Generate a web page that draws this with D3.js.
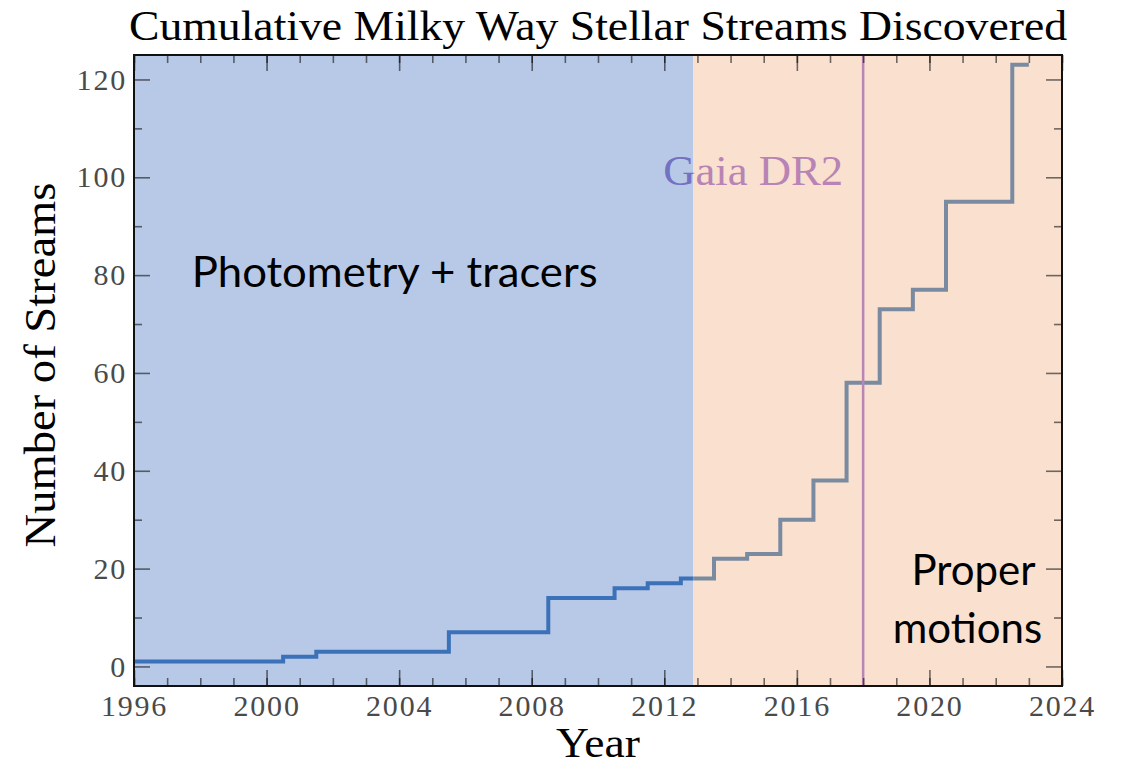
<!DOCTYPE html>
<html>
<head>
<meta charset="utf-8">
<script src="https://cdn.jsdelivr.net/npm/d3@7"></script>
<style>
  body { margin: 0; background: #fff; }
  svg { display: block; }
</style>
</head>
<body>
<div id="chart"></div>
<script>
// yearly cumulative counts (step changes half way between years)
var years = [1996, 1997, 1998, 1999, 2000, 2001, 2002, 2003, 2004, 2005, 2006, 2007, 2008, 2009,
             2010, 2011, 2012, 2013, 2014, 2015, 2016, 2017, 2018, 2019, 2020, 2021, 2022, 2023]
var streams = [1, 1, 1, 1, 1, 2, 3, 3, 3, 3, 7, 7, 7, 14,
               14, 16, 17, 18, 22, 23, 30, 38, 58, 73, 77, 95, 95, 123]

// eras + Gaia DR2 release
var eraNames = ["Photometry + tracers", "Proper motions"]
var eraBreak = 2012.88
var gaiaYear = 2018

var xMajor = [1996, 2000, 2004, 2008, 2012, 2016, 2020, 2024]
var yMajor = [0, 20, 40, 60, 80, 100, 120]
var yMinor = [10, 30, 50, 70, 90, 110]

var data = years.map(function (d, i) {
    return { year: d, n: streams[i] }
})

var W = 1129, H = 768
var margin = { top: 55, right: 67, bottom: 82, left: 134 }
var width = W - margin.left - margin.right
var height = H - margin.top - margin.bottom

var svg = d3.select("#chart")
    .append("svg")
    .attr("width", W)
    .attr("height", H)
    .append("g")
    .attr("transform", "translate(" + margin.left + "," + margin.top + ")")

var x = d3.scaleLinear().domain([1996, 2024]).range([0, width])
var y = d3.scaleLinear().domain([-4, 125]).range([height, 0])

// background regions
svg.append("rect")
    .attr("x", x(1996)).attr("y", 0)
    .attr("width", x(eraBreak) - x(1996)).attr("height", height)
    .attr("fill", "#b8c9e8")
svg.append("rect")
    .attr("x", x(eraBreak)).attr("y", 0)
    .attr("width", x(2024) - x(eraBreak)).attr("height", height)
    .attr("fill", "#f9e0cf")

var defs = svg.append("defs")
defs.append("clipPath").attr("id", "clipBlue")
    .append("rect")
    .attr("x", x(1996) - 10).attr("y", -60)
    .attr("width", x(eraBreak) - x(1996) + 10).attr("height", height + 60)
defs.append("clipPath").attr("id", "clipOrange")
    .append("rect")
    .attr("x", x(eraBreak)).attr("y", -60)
    .attr("width", x(2024) - x(eraBreak) + 10).attr("height", height + 60)

// step line
var line = d3.line()
    .curve(d3.curveStep)
    .x(function (d) { return x(d.year) })
    .y(function (d) { return y(d.n) })

svg.append("path")
    .datum(data)
    .attr("d", line)
    .attr("clip-path", "url(#clipBlue)")
    .attr("fill", "none")
    .attr("stroke", "#3b71b8")
    .attr("stroke-width", 4)
svg.append("path")
    .datum(data)
    .attr("d", line)
    .attr("clip-path", "url(#clipOrange)")
    .attr("fill", "none")
    .attr("stroke", "#7a8ba1")
    .attr("stroke-width", 4)

// Gaia DR2 line
svg.append("line")
    .attr("x1", x(gaiaYear)).attr("x2", x(gaiaYear))
    .attr("y1", 0).attr("y2", height)
    .attr("stroke", "#b985b5")
    .attr("stroke-width", 2.5)

var gaiaColors = [["clipBlue", "#7470c2"], ["clipOrange", "#b784b5"]]
gaiaColors.forEach(function (c) {
    svg.append("text")
        .attr("clip-path", "url(#" + c[0] + ")")
        .attr("x", x(gaiaYear) - 20)
        .attr("y", y(98.5))
        .attr("text-anchor", "end")
        .attr("font-family", "'Liberation Serif', serif")
        .attr("font-size", 42)
        .attr("textLength", 180)
        .attr("lengthAdjust", "spacingAndGlyphs")
        .attr("fill", c[1])
        .text("Gaia DR2")
})

// axes with inward ticks on all four sides
function styleAxis(g, labels) {
    g.select(".domain").remove()
    g.selectAll(".tick line").attr("stroke", "#000").attr("stroke-opacity", 0.55).attr("stroke-width", 1.6)
    if (!labels) g.selectAll(".tick text").remove()
    else g.selectAll(".tick text")
        .attr("fill", "#4a4a4a")
        .attr("font-family", "'Liberation Serif', serif")
        .attr("font-size", 30)
        .style("letter-spacing", "1.8px")
}

var yearsAll = d3.range(1996, 2025)
svg.append("g").attr("transform", "translate(0," + height + ")")
    .call(d3.axisBottom(x).tickValues(yearsAll).tickSize(-8).tickFormat(""))
    .call(styleAxis, false)
svg.append("g").attr("transform", "translate(0," + height + ")")
    .call(d3.axisBottom(x).tickValues(xMajor).tickSize(-16).tickPadding(9).tickFormat(d3.format("d")))
    .call(styleAxis, true)
svg.append("g")
    .call(d3.axisTop(x).tickValues(yearsAll).tickSize(-8).tickFormat(""))
    .call(styleAxis, false)
svg.append("g")
    .call(d3.axisTop(x).tickValues(xMajor).tickSize(-16).tickFormat(""))
    .call(styleAxis, false)

svg.append("g")
    .call(d3.axisLeft(y).tickValues(yMinor).tickSize(-8).tickFormat(""))
    .call(styleAxis, false)
svg.append("g")
    .call(d3.axisLeft(y).tickValues(yMajor).tickSize(-16).tickPadding(7))
    .call(styleAxis, true)
svg.append("g").attr("transform", "translate(" + width + ",0)")
    .call(d3.axisRight(y).tickValues(yMinor).tickSize(-8).tickFormat(""))
    .call(styleAxis, false)
svg.append("g").attr("transform", "translate(" + width + ",0)")
    .call(d3.axisRight(y).tickValues(yMajor).tickSize(-16).tickFormat(""))
    .call(styleAxis, false)

// frame
svg.append("rect")
    .attr("width", width).attr("height", height)
    .attr("fill", "none")
    .attr("stroke", "#111")
    .attr("stroke-width", 2)

// era labels
svg.append("text")
    .attr("x", x(1997.74)).attr("y", y(77.6))
    .attr("font-family", "Lato, 'Open Sans', sans-serif")
    .attr("font-size", 42)
    .attr("textLength", 406)
    .attr("lengthAdjust", "spacingAndGlyphs")
    .attr("fill", "#000")
    .text(eraNames[0])
var pm = eraNames[1].split(" ")
svg.append("text")
    .attr("x", x(2023.2)).attr("y", y(16.6))
    .attr("text-anchor", "end")
    .attr("font-family", "Lato, 'Open Sans', sans-serif")
    .attr("font-size", 42)
    .attr("fill", "#000")
    .text(pm[0])
svg.append("text")
    .attr("x", x(2023.4)).attr("y", y(4.8))
    .attr("text-anchor", "end")
    .attr("font-family", "Lato, 'Open Sans', sans-serif")
    .attr("font-size", 42)
    .attr("fill", "#000")
    .text(pm[1])

// title + axis titles
svg.append("text")
    .attr("x", width / 2).attr("y", -15)
    .attr("text-anchor", "middle")
    .attr("font-family", "'Liberation Serif', serif")
    .attr("font-size", 42)
    .attr("textLength", 938)
    .attr("lengthAdjust", "spacingAndGlyphs")
    .attr("fill", "#000")
    .text("Cumulative Milky Way Stellar Streams Discovered")

svg.append("text")
    .attr("x", width / 2).attr("y", height + 71)
    .attr("text-anchor", "middle")
    .attr("font-family", "'Liberation Serif', serif")
    .attr("font-size", 43)
    .attr("textLength", 84)
    .attr("lengthAdjust", "spacingAndGlyphs")
    .attr("fill", "#000")
    .text("Year")

svg.append("text")
    .attr("transform", "translate(" + (55 - margin.left) + "," + (365 - margin.top) + ") rotate(-90)")
    .attr("text-anchor", "middle")
    .attr("font-family", "'Liberation Serif', serif")
    .attr("font-size", 44)
    .attr("textLength", 365)
    .attr("lengthAdjust", "spacingAndGlyphs")
    .attr("fill", "#000")
    .text("Number of Streams")
</script>
</body>
</html>
